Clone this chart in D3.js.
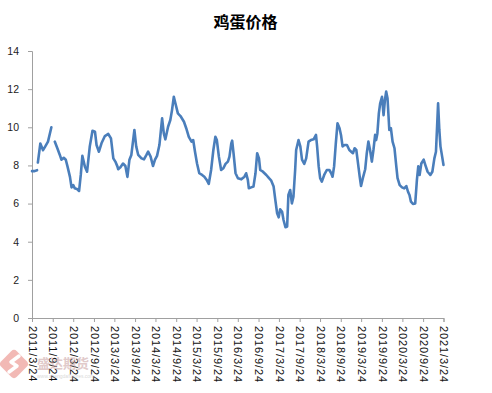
<!DOCTYPE html>
<html>
<head>
<meta charset="utf-8">
<script src="https://cdn.jsdelivr.net/npm/d3@7"></script>
<style>
  html, body { margin: 0; padding: 0; background: #fff; }
  svg { display: block; }
</style>
</head>
<body>
<div id="chart"></div>
<script>
const chartTitle = "鸡蛋价格";
const yTicks = [0, 2, 4, 6, 8, 10, 12, 14];
const xTickLabels = ["2011/3/24","2011/9/24","2012/3/24","2012/9/24","2013/3/24","2013/9/24",
  "2014/3/24","2014/9/24","2015/3/24","2015/9/24","2016/3/24","2016/9/24","2017/3/24",
  "2017/9/24","2018/3/24","2018/9/24","2019/3/24","2019/9/24","2020/3/24","2020/9/24","2021/3/24"];

const dates = [
 "2011-03-24","2011-04-16","2011-05-08","2011-05-12","2011-05-15","2011-06-06","2011-06-30","2011-07-20",
 "2011-08-13","2011-09-12","2011-09-27","2011-10-12","2011-11-04","2011-11-26","2011-12-10","2011-12-31",
 "2012-01-18","2012-02-02","2012-02-24","2012-03-09","2012-03-24","2012-04-07","2012-04-30","2012-05-15",
 "2012-05-30","2012-06-13","2012-07-05","2012-07-25","2012-08-18","2012-09-11","2012-10-03","2012-10-17",
 "2012-11-07","2012-11-30","2012-12-30","2013-01-29","2013-02-22","2013-03-15","2013-04-02","2013-04-20",
 "2013-04-27","2013-05-17","2013-06-09","2013-06-30","2013-07-18","2013-08-05","2013-08-22","2013-09-07",
 "2013-09-18","2013-10-04","2013-10-22","2013-11-20","2013-12-12","2014-01-03","2014-01-18","2014-02-09",
 "2014-03-02","2014-03-20","2014-04-07","2014-04-28","2014-05-22","2014-06-06","2014-06-20","2014-07-14",
 "2014-08-03","2014-08-18","2014-09-03","2014-09-17","2014-10-09","2014-11-01","2014-12-02","2014-12-22",
 "2015-01-14","2015-02-07","2015-02-22","2015-03-10","2015-03-28","2015-04-17","2015-05-12","2015-06-01",
 "2015-06-22","2015-07-10","2015-07-31","2015-08-20","2015-09-07","2015-09-20","2015-10-08","2015-10-28",
 "2015-11-17","2015-12-06","2015-12-27","2016-01-10","2016-01-26","2016-02-03","2016-02-15","2016-03-04",
 "2016-03-25","2016-04-24","2016-05-22","2016-06-06","2016-06-21","2016-06-30","2016-07-21","2016-08-10",
 "2016-08-28","2016-09-12","2016-09-28","2016-10-09","2016-11-02","2016-12-02","2016-12-26","2017-01-15",
 "2017-02-05","2017-02-20","2017-03-08","2017-03-22","2017-04-04","2017-04-21","2017-05-04","2017-05-21",
 "2017-06-05","2017-06-16","2017-07-02","2017-07-17","2017-07-31","2017-08-15","2017-08-24","2017-09-14",
 "2017-09-30","2017-10-15","2017-11-04","2017-11-21","2017-12-12","2018-01-02","2018-01-26","2018-02-16",
 "2018-02-26","2018-03-12","2018-03-25","2018-04-09","2018-04-30","2018-05-23","2018-06-15","2018-07-01",
 "2018-07-13","2018-07-27","2018-08-11","2018-08-26","2018-09-13","2018-09-26","2018-10-10","2018-10-28",
 "2018-11-18","2018-12-09","2018-12-26","2019-01-10","2019-01-25","2019-02-09","2019-02-20","2019-03-11",
 "2019-03-23","2019-04-08","2019-04-29","2019-05-13","2019-05-27","2019-06-11","2019-06-27","2019-07-11",
 "2019-07-26","2019-08-04","2019-08-15","2019-08-28","2019-09-09","2019-09-25","2019-10-09","2019-10-21",
 "2019-11-01","2019-11-13","2019-11-29","2019-12-13","2019-12-28","2020-01-14","2020-01-30","2020-02-10",
 "2020-02-29","2020-03-21","2020-04-09","2020-04-28","2020-05-13","2020-05-26","2020-06-08","2020-06-26",
 "2020-07-16","2020-07-31","2020-08-12","2020-08-24","2020-09-08","2020-09-29","2020-10-14","2020-11-03",
 "2020-11-27","2020-12-15","2021-01-02","2021-01-16","2021-01-26","2021-02-04","2021-02-15","2021-02-25",
 "2021-03-12","2021-03-24"
];
const prices = [
 7.70,7.70,7.75,null,8.15,9.15,8.80,9.00,
 9.25,10.00,null,9.25,8.90,8.55,8.30,8.40,
 8.30,7.95,7.40,6.85,6.97,6.80,6.75,6.66,
 7.50,8.50,7.95,7.67,9.00,9.82,9.77,9.07,
 8.72,9.16,9.54,9.65,9.42,8.37,8.20,7.95,
 7.80,7.90,8.10,7.97,7.40,8.30,8.55,9.33,
 9.86,9.00,8.55,8.37,8.32,8.55,8.72,8.46,
 7.97,8.30,8.50,9.07,10.47,9.68,9.37,10.03,
 10.38,10.90,11.60,11.26,10.73,10.59,10.29,9.95,
 9.50,9.25,9.33,8.72,8.10,7.59,7.50,7.41,
 7.24,7.03,7.76,8.81,9.50,9.33,8.46,7.76,
 7.85,8.08,8.20,8.46,9.16,9.30,8.64,7.59,
 7.33,7.27,7.41,7.59,7.24,6.80,6.85,6.89,
 7.59,8.64,8.37,7.76,7.67,7.50,7.33,7.20,
 6.89,6.19,5.49,5.28,5.70,5.57,5.14,4.76,
 4.80,6.45,6.71,6.01,6.36,7.76,8.81,9.33,
 9.00,8.30,8.08,8.37,9.25,9.33,9.37,9.60,
 9.00,7.95,7.33,7.15,7.50,7.76,7.76,7.59,
 7.41,7.95,9.16,10.21,9.95,9.60,9.00,9.07,
 9.07,8.81,8.72,8.64,8.90,8.81,8.30,7.41,
 6.92,7.33,7.80,8.64,9.25,8.81,8.20,8.81,
 9.60,9.33,9.68,10.73,11.26,11.60,10.64,11.43,
 11.87,11.52,9.86,9.95,9.25,8.90,7.95,7.33,
 6.97,6.85,6.80,6.92,6.62,6.45,6.10,5.98,
 6.01,7.24,7.95,7.50,8.10,8.30,8.02,7.67,
 7.50,7.67,8.37,8.72,10.03,11.26,9.86,9.00,
 8.46,8.02
];

const W = 492, H = 393;
const margin = { left: 32, right: 48.5, top: 51, bottom: 75 };
const parseISO = d3.timeParse("%Y-%m-%d");
const parseTick = d3.timeParse("%Y/%m/%d");
const data = dates.map((d, i) => ({ date: parseISO(d), value: prices[i] }));
const tickDates = xTickLabels.map(s => parseTick(s));

const svg = d3.select("#chart").append("svg")
  .attr("width", W).attr("height", H);

const x = d3.scaleTime()
  .domain([tickDates[0], tickDates[tickDates.length - 1]])
  .range([margin.left, W - margin.right]);
const y = d3.scaleLinear()
  .domain([0, 14])
  .range([H - margin.bottom, margin.top]);

// title
svg.append("text")
  .attr("x", 245.5).attr("y", 28)
  .attr("text-anchor", "middle")
  .style("font-family", "'Noto Sans CJK SC', sans-serif")
  .style("font-weight", "bold")
  .style("font-size", "16px")
  .style("fill", "#000")
  .text(chartTitle);

// y axis
const yAxis = svg.append("g")
  .attr("transform", `translate(${margin.left},0)`)
  .call(d3.axisLeft(y).tickValues(yTicks).tickSize(4).tickPadding(9).tickFormat(d3.format("d")));
yAxis.select(".domain").attr("stroke", "#a0a0a0");
yAxis.selectAll(".tick line").attr("stroke", "#a0a0a0");
yAxis.selectAll("text")
  .style("font-family", "'Liberation Sans', Arial, sans-serif")
  .style("font-size", "10.5px")
  .style("fill", "#222");

// x axis
const xAxis = svg.append("g")
  .attr("transform", `translate(0,${H - margin.bottom})`)
  .call(d3.axisBottom(x).tickValues(tickDates).tickSize(4)
    .tickFormat((d, i) => xTickLabels[i]));
xAxis.select(".domain").attr("stroke", "#a0a0a0");
xAxis.selectAll(".tick line").attr("stroke", "#a0a0a0");
xAxis.selectAll("text")
  .attr("transform", "rotate(90)")
  .attr("x", 8).attr("y", 0).attr("dy", "0.35em")
  .attr("text-anchor", "start")
  .style("font-family", "'Liberation Sans', Arial, sans-serif")
  .style("font-size", "11px")
  .style("letter-spacing", "0.9px")
  .style("fill", "#111");

// line
const line = d3.line()
  .defined(d => d.value !== null)
  .x(d => x(d.date))
  .y(d => y(d.value))
  .curve(d3.curveLinear);
svg.append("path")
  .datum(data)
  .attr("fill", "none")
  .attr("stroke", "#4a7ebb")
  .attr("stroke-width", 2.6)
  .attr("stroke-linejoin", "round")
  .attr("stroke-linecap", "round")
  .attr("d", line);

// watermark
const wm = svg.append("g").attr("opacity", 0.55);
wm.append("rect")
  .attr("x", -11).attr("y", -11).attr("width", 22).attr("height", 22)
  .attr("rx", 4)
  .attr("transform", "translate(14,364) rotate(45)")
  .attr("fill", "#e8807a");
wm.append("path")
  .attr("d", "M19,356 L11,362 L17,366 L9,372")
  .attr("fill", "none").attr("stroke", "#fff").attr("stroke-width", 3.5)
  .attr("stroke-linecap", "round").attr("stroke-linejoin", "round");
wm.append("text")
  .attr("x", 37).attr("y", 368)
  .style("font-family", "'Noto Sans CJK SC', sans-serif")
  .style("font-size", "13px")
  .style("font-weight", "bold")
  .style("fill", "#c9a0a0")
  .text("盛达期货");
wm.append("text")
  .attr("x", 37).attr("y", 378)
  .style("font-family", "'Liberation Sans', sans-serif")
  .style("font-size", "5px")
  .style("fill", "#bbb")
  .text("www.shengdafutures.com");
</script>
</body>
</html>
